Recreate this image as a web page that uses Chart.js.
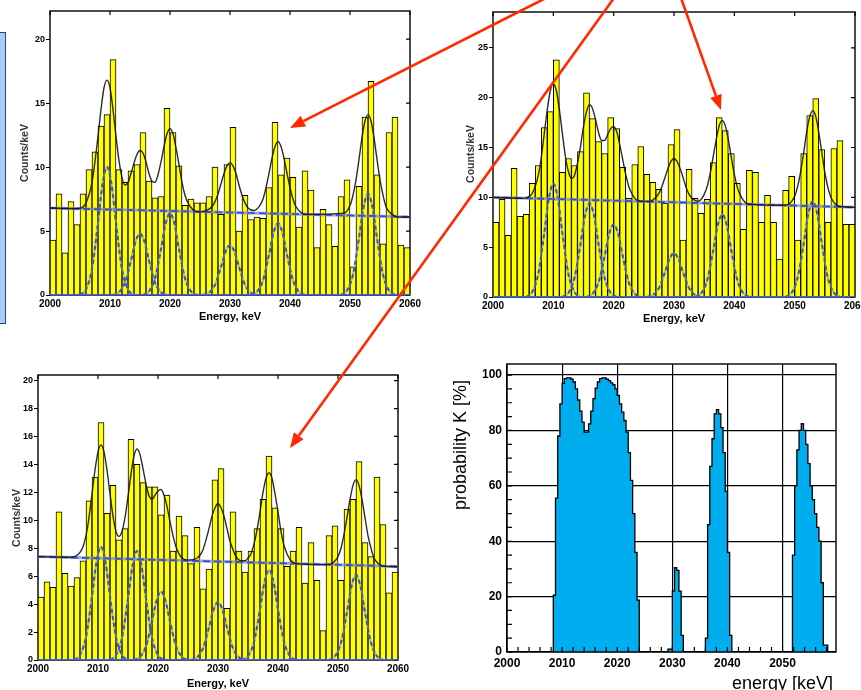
<!DOCTYPE html>
<html>
<head>
<meta charset="utf-8">
<script src="https://cdn.jsdelivr.net/npm/chart.js@4.4.1/dist/chart.umd.min.js"></script>
<style>
  html, body { margin: 0; padding: 0; background: #fff; }
  #page { position: relative; width: 861px; height: 690px; overflow: hidden; }
  canvas { position: absolute; }
  #c1 { left: 0; top: 0; }
  #c2 { left: 430px; top: 0; }
  #c3 { left: 0; top: 350px; }
  #c4 { left: 430px; top: 350px; }
  #sidebox { position: absolute; left: -3px; top: 32px; width: 7px; height: 290px;
             background: #aecbf3; border: 1.5px solid #2040b0; }
  #arrows { position: absolute; left: 0; top: 0; }
</style>
</head>
<body>
<div id="page">
  <div id="sidebox"></div>
  <canvas id="c1" width="430" height="330"></canvas>
  <canvas id="c2" width="431" height="330"></canvas>
  <canvas id="c3" width="430" height="340"></canvas>
  <canvas id="c4" width="431" height="340"></canvas>
  <svg id="arrows" width="861" height="690"></svg>
</div>
<script>
// Three fitted spectra (counts per 1 keV bin, 2000-2060 keV) + probability scan

const binLow = Array.from({ length: 60 }, (_, i) => 2000 + i);

const p1Counts = [4.3, 7.9, 3.3, 7.3, 5.5, 7.9, 9.8, 11.2, 13.2, 14.1,
                  18.4, 9.8, 8.8, 9.7, 10.2, 12.7, 8.9, 7.6, 7.7, 14.6,
                  12.7, 10.1, 7.0, 7.5, 7.2, 7.2, 7.7, 10.0, 6.3, 10.2,
                  13.1, 5.0, 7.8, 5.9, 6.1, 6.0, 8.4, 13.5, 9.4, 10.7,
                  9.2, 5.3, 9.7, 8.2, 3.7, 6.7, 5.5, 3.8, 7.7, 9.0,
                  2.2, 8.5, 13.9, 16.7, 9.4, 4.0, 12.7, 13.9, 3.9, 3.7];

const p2Counts = [7.5, 9.8, 6.2, 12.9, 8.1, 8.3, 11.4, 13.2, 17.0, 18.6,
                  23.8, 12.5, 13.9, 13.2, 14.6, 20.5, 17.9, 15.6, 14.4, 18.0,
                  16.9, 13.0, 9.9, 13.3, 15.1, 12.3, 11.5, 10.8, 9.4, 15.3,
                  16.8, 5.7, 12.8, 9.9, 8.4, 9.8, 13.5, 18.0, 16.7, 14.4,
                  11.4, 6.8, 12.7, 12.5, 7.5, 10.2, 7.5, 3.8, 10.7, 12.1,
                  5.7, 14.4, 18.2, 19.9, 14.8, 7.5, 14.9, 15.7, 7.3, 7.3];

const p3Counts = [4.5, 5.6, 5.2, 10.6, 6.2, 5.3, 5.9, 7.1, 11.4, 13.1,
                  17.0, 10.5, 12.5, 8.6, 9.4, 15.8, 14.0, 12.7, 12.4, 12.4,
                  10.4, 11.8, 7.8, 10.3, 8.9, 6.9, 9.5, 5.1, 6.5, 12.9,
                  13.7, 3.7, 10.6, 7.8, 6.3, 7.8, 9.4, 11.5, 14.6, 10.9,
                  9.4, 6.7, 7.8, 9.5, 5.5, 8.4, 5.7, 2.1, 8.9, 9.6,
                  5.7, 10.8, 11.5, 14.2, 8.4, 7.4, 13.1, 9.7, 4.8, 6.3];

// total fit curves, [energy, counts/keV]
const p1Fit = [[2000,6.8],[2004,6.75],[2005,6.78],[2006,7.2],[2007,8.8],[2008,12.4],[2008.5,14.5],[2009,16.2],
  [2009.5,16.8],[2010,16.2],[2010.5,14.5],[2011,12.4],[2011.5,10.5],[2012,9.2],[2012.5,8.6],[2013,8.8],
  [2013.5,9.5],[2014,10.3],[2014.5,11.0],[2015,11.3],[2015.5,11.1],[2016,10.4],[2016.5,9.5],[2017,8.9],
  [2017.5,8.8],[2018,9.4],[2018.5,10.4],[2019,11.6],[2019.5,12.6],[2020,13.0],[2020.5,12.6],[2021,11.5],
  [2021.5,10.2],[2022,8.8],[2022.5,7.8],[2023,7.2],[2024,6.6],[2025,6.5],[2026,6.6],[2027,6.9],
  [2027.5,7.3],[2028,7.9],[2028.5,8.7],[2029,9.5],[2029.5,10.1],[2030,10.35],[2030.5,10.1],[2031,9.5],
  [2031.5,8.6],[2032,7.8],[2032.5,7.2],[2033,6.8],[2034,6.6],[2035,7.0],[2035.5,7.5],[2036,8.4],
  [2036.5,9.5],[2037,10.7],[2037.5,11.6],[2038,12.0],[2038.5,11.6],[2039,10.7],[2039.5,9.5],[2040,8.4],
  [2040.5,7.5],[2041,6.9],[2042,6.4],[2043,6.3],[2049,6.4],[2050,7.0],[2050.5,7.8],[2051,9.0],
  [2051.5,10.6],[2052,12.3],[2052.5,13.6],[2053,14.1],[2053.5,13.6],[2054,12.3],[2054.5,10.6],[2055,9.0],
  [2055.5,7.8],[2056,6.9],[2057,6.3],[2058,6.1],[2060,6.1]];

const p2Fit = [[2000,10.0],[2005,9.9],[2006,10.1],[2006.5,10.4],[2007,11.1],[2007.5,12.2],[2008,14.0],
  [2008.5,16.4],[2009,18.8],[2009.5,20.7],[2010,21.4],[2010.5,20.7],[2011,18.8],[2011.5,16.4],[2012,14.1],
  [2012.5,12.6],[2013,11.9],[2013.5,12.2],[2014,13.4],[2014.5,15.1],[2015,17.1],[2015.5,18.6],[2016,19.3],
  [2016.5,18.9],[2017,17.8],[2017.5,16.5],[2018,15.7],[2018.5,15.7],[2019,16.3],[2019.5,16.9],[2020,17.1],
  [2020.5,16.6],[2021,15.3],[2021.5,13.8],[2022,12.3],[2022.5,11.1],[2023,10.4],[2023.5,9.9],[2024,9.7],
  [2025,9.6],[2026,9.6],[2027,10.0],[2027.5,10.4],[2028,11.1],[2028.5,12.0],[2029,12.9],[2029.5,13.6],
  [2030,13.9],[2030.5,13.6],[2031,12.9],[2031.5,12.0],[2032,11.0],[2032.5,10.3],[2033,9.9],[2034,9.6],
  [2034.5,9.8],[2035,10.3],[2035.5,11.1],[2036,12.4],[2036.5,14.1],[2037,15.8],[2037.5,17.2],[2038,17.7],
  [2038.5,17.2],[2039,15.8],[2039.5,14.0],[2040,12.3],[2040.5,11.0],[2041,10.2],[2041.5,9.7],[2042,9.4],
  [2043,9.3],[2048,9.2],[2049,9.3],[2049.5,9.6],[2050,10.1],[2050.5,11.1],[2051,12.6],[2051.5,14.5],
  [2052,16.6],[2052.5,18.1],[2053,18.7],[2053.5,18.1],[2054,16.5],[2054.5,14.5],[2055,12.5],[2055.5,11.0],
  [2056,10.0],[2056.5,9.5],[2057,9.2],[2058,9.05],[2060,9.0]];

const p3Fit = [[2000,7.4],[2005,7.36],[2006,7.4],[2006.5,7.5],[2007,7.7],[2007.5,8.1],[2008,8.9],[2008.5,10.2],
  [2009,11.9],[2009.5,13.6],[2010,14.9],[2010.5,15.4],[2011,14.9],[2011.5,13.6],[2012,11.9],[2012.5,10.3],
  [2013,9.2],[2013.5,8.85],[2014,9.2],[2014.5,10.2],[2015,11.7],[2015.5,13.3],[2016,14.6],[2016.5,15.1],
  [2017,14.7],[2017.5,13.7],[2018,12.6],[2018.5,11.75],[2019,11.5],[2019.5,11.8],[2020,12.1],[2020.5,12.2],
  [2021,11.8],[2021.5,11.0],[2022,9.9],[2022.5,8.9],[2023,8.1],[2023.5,7.6],[2024,7.3],[2025,7.15],
  [2026,7.2],[2026.5,7.3],[2027,7.5],[2027.5,7.9],[2028,8.6],[2028.5,9.4],[2029,10.3],[2029.5,10.9],
  [2030,11.2],[2030.5,10.9],[2031,10.3],[2031.5,9.4],[2032,8.5],[2032.5,7.9],[2033,7.4],[2034,7.1],
  [2034.5,7.1],[2035,7.3],[2035.5,7.6],[2036,8.3],[2036.5,9.3],[2037,10.6],[2037.5,12.0],[2038,13.0],
  [2038.5,13.4],[2039,13.0],[2039.5,11.9],[2040,10.6],[2040.5,9.2],[2041,8.2],[2041.5,7.6],[2042,7.2],
  [2043,6.9],[2048,6.83],[2049,6.9],[2049.5,7.1],[2050,7.4],[2050.5,8.0],[2051,9.0],[2051.5,10.2],
  [2052,11.5],[2052.5,12.5],[2053,12.9],[2053.5,12.5],[2054,11.5],[2054.5,10.2],[2055,8.9],[2055.5,8.0],
  [2056,7.3],[2056.5,7.0],[2057,6.8],[2058,6.7],[2060,6.67]];

// flat background of each fit
const p1Bkg = [[2000, 6.8], [2060, 6.1]];
const p2Bkg = [[2000, 10.0], [2060, 9.0]];
const p3Bkg = [[2000, 7.4], [2060, 6.7]];

// single-line components, values at peakOffsets (keV) from each centre
const peakOffsets = [-4.5, -3.5, -2.5, -1.5, -0.75, 0, 0.75, 1.5, 2.5, 3.5, 4.5];

const p1Centres = [2009.5, 2015, 2020, 2030, 2038, 2053];
const p1Peaks = [
  [0, 0.44, 2.03, 5.63, 8.66, 10.0, 8.66, 5.63, 2.03, 0.44, 0],
  [0, 0.21, 0.97, 2.70, 4.16, 4.8, 4.16, 2.70, 0.97, 0.21, 0],
  [0, 0.28, 1.30, 3.60, 5.54, 6.4, 5.54, 3.60, 1.30, 0.28, 0],
  [0, 0.17, 0.79, 2.20, 3.38, 3.9, 3.38, 2.20, 0.79, 0.17, 0],
  [0, 0.25, 1.14, 3.15, 4.85, 5.6, 4.85, 3.15, 1.14, 0.25, 0],
  [0, 0.35, 1.60, 4.45, 6.84, 7.9, 6.84, 4.45, 1.60, 0.35, 0]];

const p2Centres = [2010, 2016, 2020, 2030, 2038, 2053];
const p2Peaks = [
  [0, 0.50, 2.31, 6.42, 9.87, 11.4, 9.87, 6.42, 2.31, 0.50, 0],
  [0, 0.41, 1.91, 5.29, 8.14, 9.4, 8.14, 5.29, 1.91, 0.41, 0],
  [0, 0.32, 1.48, 4.11, 6.32, 7.3, 6.32, 4.11, 1.48, 0.32, 0],
  [0, 0.19, 0.89, 2.48, 3.81, 4.4, 3.81, 2.48, 0.89, 0.19, 0],
  [0, 0.37, 1.68, 4.67, 7.19, 8.3, 7.19, 4.67, 1.68, 0.37, 0],
  [0, 0.42, 1.95, 5.40, 8.31, 9.6, 8.31, 5.40, 1.95, 0.42, 0]];

const p3Centres = [2010.5, 2016.5, 2020.5, 2030, 2038.5, 2053];
const p3Peaks = [
  [0, 0.36, 1.64, 4.56, 7.01, 8.1, 7.01, 4.56, 1.64, 0.36, 0],
  [0, 0.34, 1.58, 4.39, 6.75, 7.8, 6.75, 4.39, 1.58, 0.34, 0],
  [0, 0.22, 0.99, 2.76, 4.24, 4.9, 4.24, 2.76, 0.99, 0.22, 0],
  [0, 0.18, 0.84, 2.34, 3.59, 4.15, 3.59, 2.34, 0.84, 0.18, 0],
  [0, 0.28, 1.31, 3.63, 5.59, 6.45, 5.59, 3.63, 1.31, 0.28, 0],
  [0, 0.27, 1.24, 3.43, 5.28, 6.1, 5.28, 3.43, 1.24, 0.27, 0]];

// probability K [%], 0.4 keV bins, one run of bins per line
const probBinWidth = 0.4;
const probStarts = [2008.4, 2029.2, 2036.0, 2051.8];
const probValues = [
  [20.5, 55.6, 78, 89.6, 97, 98.7, 99, 99, 98.5, 97.5, 95, 91, 87, 83, 79.4, 79.4, 82.4, 87, 91.5, 95.3,
   97.5, 98.7, 99, 99, 98.5, 98, 97.2, 96.5, 95, 92.7, 89.6, 86.6, 83.6, 79.4, 72, 62, 50, 36, 18.7],
  [1, 1, 22, 30.5, 29.5, 22, 6],
  [5, 46, 67, 77, 86, 87.5, 86, 81, 72, 58, 36, 6],
  [35, 60, 73, 80, 82.5, 80, 75, 68, 60, 55, 50, 45, 40, 25, 2.5, 2.5]];

Chart.defaults.font.family = '"Liberation Sans", Arial, Helvetica, sans-serif';
Chart.defaults.color = '#000';
Chart.defaults.animation = false;

// frame, inner mirror ticks and axis titles
const framePlugin = {
  id: 'frame',
  beforeDatasetsDraw(chart, args, o) { if (o.under) drawFrame(chart, o); },
  afterDatasetsDraw(chart, args, o) { if (!o.under) drawFrame(chart, o); },
  afterDraw(chart, args, o) {
    const { ctx, chartArea: a } = chart;
    ctx.save();
    ctx.fillStyle = o.titleColor || '#000';
    ctx.font = o.xTitleFont;
    ctx.textAlign = o.xTitleAlign || 'center';
    ctx.textBaseline = 'alphabetic';
    const xt = o.xTitlePos || [(a.left + a.right) / 2, a.bottom + 27];
    ctx.fillText(o.xTitle, xt[0], xt[1]);
    ctx.font = o.yTitleFont;
    ctx.fillStyle = o.yTitleColor || '#000';
    const yt = o.yTitlePos || [a.left - 25, (a.top + a.bottom) / 2];
    ctx.translate(yt[0], yt[1]);
    ctx.rotate(-Math.PI / 2);
    ctx.textAlign = 'center';
    ctx.textBaseline = 'middle';
    ctx.fillText(o.yTitle, 0, 0);
    ctx.restore();
  }
};

function drawFrame(chart, o) {
  const { ctx, chartArea: a, scales } = chart;
  ctx.save();
  ctx.strokeStyle = '#000';
  ctx.lineWidth = 1.4;
  ctx.strokeRect(a.left, a.top, a.right - a.left, a.bottom - a.top);
  ctx.lineWidth = 1.2;
  ctx.beginPath();
  if (o.mirror) {
    scales.y.ticks.forEach(t => {
      const y = scales.y.getPixelForValue(t.value);
      ctx.moveTo(a.right, y); ctx.lineTo(a.right - o.mirror, y);
    });
    scales.x.ticks.forEach(t => {
      const x = scales.x.getPixelForValue(t.value);
      ctx.moveTo(x, a.top); ctx.lineTo(x, a.top + o.mirror);
    });
  }
  if (o.minorY) {
    for (let v = 0; v <= scales.y.max; v += o.minorY) {
      const y = scales.y.getPixelForValue(v);
      ctx.moveTo(a.left, y); ctx.lineTo(a.left + 5, y);
    }
  }
  if (o.minorX) {
    for (let v = scales.x.min; v <= scales.x.max; v += o.minorX) {
      const x = scales.x.getPixelForValue(v);
      ctx.moveTo(x, a.bottom); ctx.lineTo(x, a.bottom - 5);
    }
  }
  ctx.stroke();
  ctx.restore();
}

// pin axis sizes so the plot areas sit where the reference has them
function pinAxis(size, key) {
  return s => {
    s[key] = size;
    s.paddingLeft = 0; s.paddingRight = 0; s.paddingTop = 0; s.paddingBottom = 0;
  };
}

const xy = pairs => pairs.map(([x, y]) => ({ x, y }));

function histChart(id, o) {
  const line = (data, extra) => Object.assign({
    type: 'line', data, pointRadius: 0, fill: false, borderJoinStyle: 'round'
  }, extra);
  const datasets = [
    line([{ x: 2000, y: 0 }, { x: 2060, y: 0 }], { borderColor: '#3a60ff', borderWidth: 2, order: 1 }),
    line(xy(o.fit), { borderColor: 'rgba(20,20,20,0.9)', borderWidth: 1.4, cubicInterpolationMode: 'monotone', order: 2 }),
    line(xy(o.bkg), { borderColor: '#2f4fe6', borderWidth: 1.8, borderDash: [7, 4], order: 3 }),
    line(xy(o.bkg), { borderColor: 'rgba(140,140,165,0.75)', borderWidth: 3, order: 4 })
  ];
  o.centres.forEach((c, k) => {
    const pts = peakOffsets.map((d, j) => ({ x: c + d, y: o.peaks[k][j] }));
    datasets.push(line(pts, { borderColor: '#2f55e0', borderWidth: 2, borderDash: [4, 3],
      cubicInterpolationMode: 'monotone', order: 5 }));
    datasets.push(line(pts, { borderColor: 'rgba(150,150,175,0.6)', borderWidth: 2,
      cubicInterpolationMode: 'monotone', order: 6 }));
  });
  datasets.push({
    type: 'bar',
    data: o.counts.map((v, i) => ({ x: binLow[i] + 0.5, y: v })),
    backgroundColor: '#ffff00', borderColor: '#000', borderWidth: 1,
    barPercentage: 1, categoryPercentage: 1, order: 10
  });

  return new Chart(document.getElementById(id), {
    type: 'bar',
    data: { datasets },
    plugins: [framePlugin],
    options: {
      responsive: false,
      layout: { autoPadding: false, padding: { left: 0, right: o.padRight, top: o.padTop, bottom: 0 } },
      plugins: {
        legend: { display: false },
        tooltip: { enabled: false },
        frame: {
          under: true, mirror: 4,
          xTitle: 'Energy, keV', xTitleFont: 'bold 11px "Liberation Sans", Arial, sans-serif',
          xTitlePos: o.xTitlePos,
          yTitle: 'Counts/keV', yTitleFont: 'bold 10.5px "Liberation Sans", Arial, sans-serif',
          yTitleColor: '#383838', yTitlePos: o.yTitlePos
        }
      },
      scales: {
        x: {
          type: 'linear', min: 2000, max: 2060, offset: false,
          ticks: { stepSize: 10, includeBounds: false, autoSkip: false, maxRotation: 0, padding: 3,
                   font: { size: 10, weight: 'bold' }, callback: v => v },
          grid: { display: false, drawTicks: false },
          border: { display: false },
          afterFit: pinAxis(o.xAxisH, 'height')
        },
        y: {
          min: 0, max: o.yMax,
          ticks: { stepSize: o.yStep, includeBounds: false, padding: 1,
                   font: { size: 9, weight: 'bold' }, callback: v => v },
          grid: { drawOnChartArea: false, drawTicks: true, tickLength: 4, color: '#000' },
          border: { display: false },
          afterFit: pinAxis(o.yAxisW, 'width')
        }
      }
    }
  });
}

histChart('c1', {
  counts: p1Counts, fit: p1Fit, bkg: p1Bkg, centres: p1Centres, peaks: p1Peaks,
  yMax: 22.2, yStep: 5, yAxisW: 50, xAxisH: 35, padRight: 20, padTop: 11,
  xTitlePos: [230, 320], yTitlePos: [25, 153]
});
histChart('c2', {
  counts: p2Counts, fit: p2Fit, bkg: p2Bkg, centres: p2Centres, peaks: p2Peaks,
  yMax: 28.6, yStep: 5, yAxisW: 63, xAxisH: 33, padRight: 6, padTop: 12,
  xTitlePos: [244, 322], yTitlePos: [41, 154]
});
histChart('c3', {
  counts: p3Counts, fit: p3Fit, bkg: p3Bkg, centres: p3Centres, peaks: p3Peaks,
  yMax: 20.4, yStep: 2, yAxisW: 38, xAxisH: 30, padRight: 32, padTop: 25,
  xTitlePos: [218, 337], yTitlePos: [17, 168]
});

// probability panel: stepped outline built from the bin runs
const probPoints = [{ x: 2000, y: 0 }];
probStarts.forEach((s, k) => {
  probValues[k].forEach((v, i) => probPoints.push({ x: +(s + i * probBinWidth).toFixed(2), y: v }));
  probPoints.push({ x: +(s + probValues[k].length * probBinWidth).toFixed(2), y: 0 });
});
probPoints.push({ x: 2059.7, y: 0 });

new Chart(document.getElementById('c4'), {
  type: 'line',
  data: {
    datasets: [{
      data: probPoints, stepped: true, fill: 'origin',
      backgroundColor: '#00aeef', borderColor: '#000', borderWidth: 1.3, pointRadius: 0
    }]
  },
  plugins: [framePlugin],
  options: {
    responsive: false,
    layout: { autoPadding: false, padding: { left: 0, right: 25, top: 14, bottom: 0 } },
    plugins: {
      legend: { display: false },
      tooltip: { enabled: false },
      frame: {
        under: false, minorY: 5, minorX: 2,
        xTitle: 'energy [keV]', xTitleFont: '18px "Liberation Sans", Arial, sans-serif',
        xTitleAlign: 'right', xTitlePos: [403, 339],
        yTitle: 'probability K [%]', yTitleFont: '18px "Liberation Sans", Arial, sans-serif',
        yTitlePos: [31, 95]
      }
    },
    scales: {
      x: {
        type: 'linear', min: 2000, max: 2059.7,
        ticks: { stepSize: 10, includeBounds: false, autoSkip: false, maxRotation: 0, padding: 4,
                 font: { size: 12, weight: 'bold' }, callback: v => v },
        grid: { color: '#000', lineWidth: 1.2, drawTicks: false },
        border: { display: false },
        afterFit: pinAxis(38, 'height')
      },
      y: {
        min: 0, max: 104,
        ticks: { stepSize: 20, includeBounds: false, padding: 5,
                 font: { size: 12, weight: 'bold' }, callback: v => v },
        grid: { color: '#000', lineWidth: 1.2, drawTicks: false },
        border: { display: false },
        afterFit: pinAxis(77, 'width')
      }
    }
  }
});

// red annotation arrows
const svg = document.getElementById('arrows');
const NS = 'http://www.w3.org/2000/svg';
function arrow(x1, y1, x2, y2) {
  const dx = x2 - x1, dy = y2 - y1, len = Math.hypot(dx, dy);
  const ux = dx / len, uy = dy / len, hl = 15, hw = 6;
  const bx = x2 - ux * hl, by = y2 - uy * hl;
  const ln = document.createElementNS(NS, 'line');
  ln.setAttribute('x1', x1); ln.setAttribute('y1', y1);
  ln.setAttribute('x2', bx); ln.setAttribute('y2', by);
  ln.setAttribute('stroke', '#ff2a00'); ln.setAttribute('stroke-width', 2.6);
  svg.appendChild(ln);
  const head = document.createElementNS(NS, 'polygon');
  head.setAttribute('points', [
    [x2, y2], [bx + uy * hw, by - ux * hw], [bx - uy * hw, by + ux * hw]
  ].map(p => p.join(',')).join(' '));
  head.setAttribute('fill', '#ff2a00');
  svg.appendChild(head);
}
arrow(546, -2, 290, 128);
arrow(681, -2, 721, 110);
arrow(614, -2, 290, 448);
</script>
</body>
</html>
